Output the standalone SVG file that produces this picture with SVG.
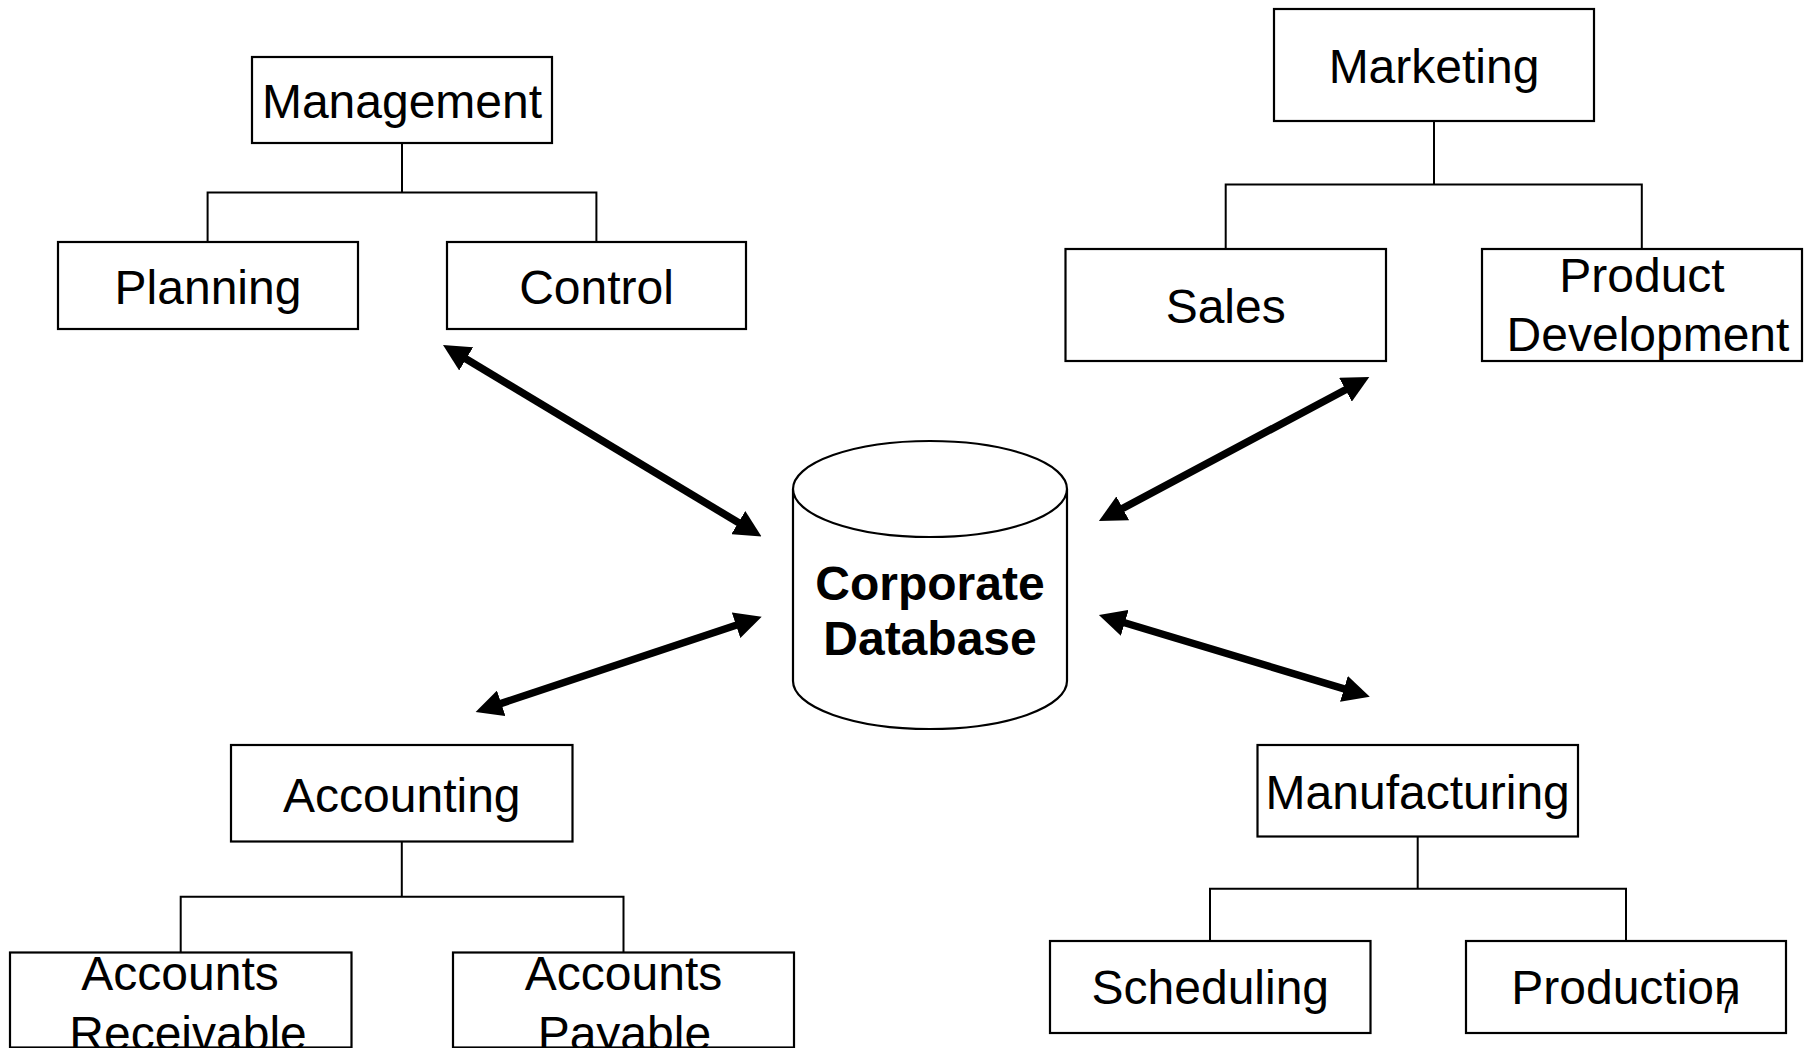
<svg xmlns="http://www.w3.org/2000/svg" width="1808" height="1054" viewBox="0 0 1808 1054">
<style>
.box{fill:#fff;stroke:#000;stroke-width:2.2}
.t{font-family:"Liberation Sans",Arial,sans-serif;font-size:48px;fill:#000;text-anchor:middle}
.b{font-weight:bold}
.tree{fill:none;stroke:#000;stroke-width:2}
.arr{fill:none;stroke:#000;stroke-width:7.5;marker-start:url(#ah);marker-end:url(#ah)}
.cyl{fill:#fff;stroke:#000;stroke-width:2.2}
</style>
<defs>
<marker id="ah" markerUnits="userSpaceOnUse" viewBox="0 0 27 27" markerWidth="27" markerHeight="27" refX="15" refY="13.5" orient="auto-start-reverse">
<path d="M0,0 L27,13.5 L0,27 Z" fill="#000"/>
</marker>
<clipPath id="bottomclip"><rect x="0" y="0" width="1808" height="1048"/></clipPath>
</defs>
<rect width="1808" height="1054" fill="#fff"/>

<g id="connectors">
<path class="tree" d="M402,143 V192.6 M207.6,242 V192.6 H596.4 V242"/>
<path class="tree" d="M1434,121 V184.5 M1225.7,249 V184.5 H1641.8 V249"/>
<path class="tree" d="M401.8,841.5 V896.7 M180.7,952.5 V896.7 H623.5 V952.5"/>
<path class="tree" d="M1417.7,836.5 V888.7 M1210,941 V888.7 H1626 V941"/>
<path class="arr" d="M453.3,351.2 L751.2,530.3"/>
<path class="arr" d="M1358.7,382.7 L1109.5,515.4"/>
<path class="arr" d="M487,708.1 L750.3,620.5"/>
<path class="arr" d="M1110.4,618.5 L1358.3,693.2"/>
</g>

<g id="database">
<path class="cyl" d="M793,489 V681 A137,48 0 0 0 1067,681 V489"/>
<ellipse class="cyl" cx="930" cy="489" rx="137" ry="48"/>
<text class="t b" x="930" y="600">Corporate</text>
<text class="t b" x="930" y="655">Database</text>
</g>

<g id="management">
<rect class="box" x="252" y="57" width="300" height="86"/>
<text class="t" x="402" y="118">Management</text>
</g>
<g id="planning">
<rect class="box" x="58" y="242" width="300" height="87"/>
<text class="t" x="208" y="304">Planning</text>
</g>
<g id="control">
<rect class="box" x="447" y="242" width="299" height="87"/>
<text class="t" x="596.5" y="304">Control</text>
</g>

<g id="marketing">
<rect class="box" x="1274" y="9" width="320" height="112"/>
<text class="t" x="1434" y="83">Marketing</text>
</g>
<g id="sales">
<rect class="box" x="1065.5" y="249" width="320.5" height="112"/>
<text class="t" x="1225.7" y="323">Sales</text>
</g>
<g id="product-development">
<rect class="box" x="1482" y="249" width="320" height="112"/>
<text class="t" x="1642" y="292">Product</text>
<text class="t" x="1648" y="351">Development</text>
</g>

<g id="accounting">
<rect class="box" x="231" y="745" width="341.5" height="96.5"/>
<text class="t" x="401.8" y="812">Accounting</text>
</g>
<g id="accounts-receivable" clip-path="url(#bottomclip)">
<rect class="box" x="10" y="952.5" width="341.5" height="95"/>
<text class="t" x="180" y="989.5">Accounts</text>
<text class="t" x="188" y="1050">Receivable</text>
</g>
<g id="accounts-payable" clip-path="url(#bottomclip)">
<rect class="box" x="453" y="952.5" width="341" height="95"/>
<text class="t" x="623.5" y="989.5">Accounts</text>
<text class="t" x="624.4" y="1050">Payable</text>
</g>

<g id="manufacturing">
<rect class="box" x="1257.5" y="745" width="320.5" height="91.5"/>
<text class="t" x="1417.7" y="808.7">Manufacturing</text>
</g>
<g id="scheduling">
<rect class="box" x="1050" y="941" width="320.5" height="92"/>
<text class="t" x="1210.3" y="1004">Scheduling</text>
</g>
<g id="production">
<rect class="box" x="1466" y="941" width="320" height="92"/>
<text class="t" x="1626" y="1004">Production</text>
</g>

<text class="t" x="1728" y="1013" style="font-size:32px">7</text>
</svg>
